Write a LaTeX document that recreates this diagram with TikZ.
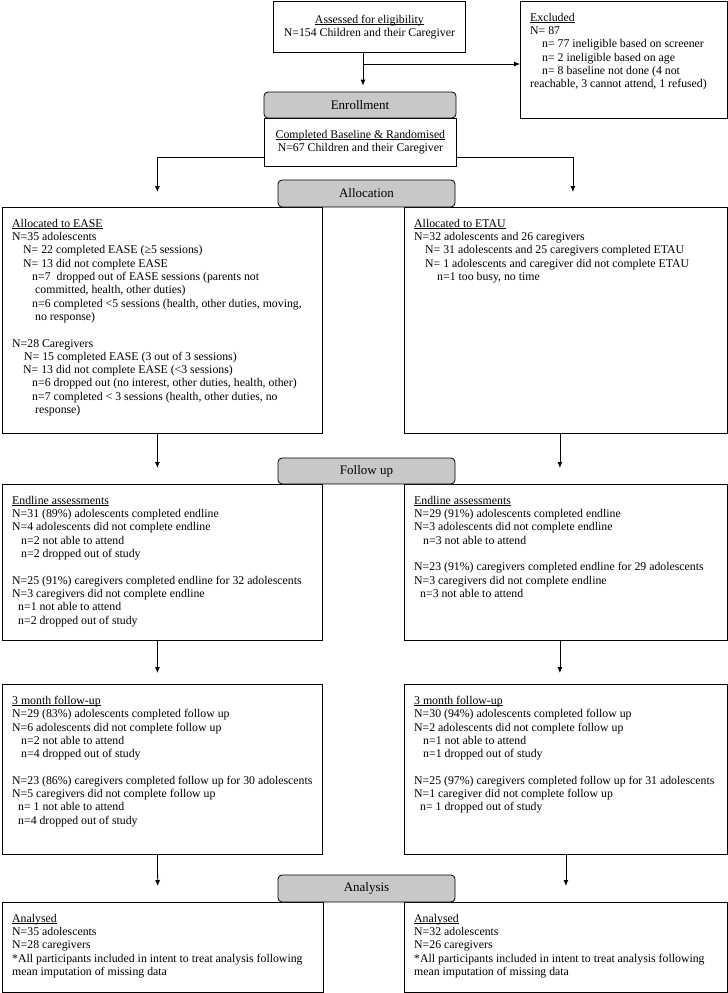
\documentclass[tikz,border=0pt]{standalone}
\usepackage{fontspec}
\setmainfont{Liberation Serif}
\usetikzlibrary{shapes,arrows.meta,positioning}

\definecolor{stagegray}{RGB}{200,200,200}
\newcommand{\headline}[1]{\setbox0\hbox{#1}\rlap{\rule[-1.4pt]{\wd0}{0.6pt}}\box0}

\begin{document}
\begin{tikzpicture}[x=1pt,y=1pt]
    \tikzset{box/.style={draw, rectangle, anchor=north west, inner sep=0pt, line width=0.8pt},
             stage/.style={draw, fill=stagegray, rounded corners=4pt, line width=0.8pt,
                           minimum width=177pt, minimum height=27pt, inner sep=0pt,
                           font=\fontsize{13}{15}\selectfont},
             txt/.style={anchor=north west, align=left, inner sep=0pt, font=\fontsize{11.8}{13.3}\selectfont},
             ctxt/.style={align=center, inner sep=0pt, font=\fontsize{11.8}{13.3}\selectfont},
             arr/.style={->, >={Latex[length=6pt,width=5pt]}, line width=0.8pt}}

    \useasboundingbox (0,0) rectangle (728,-993);

    \node[box, minimum width=192pt, minimum height=51pt]  (assess) at (273,-1)   {};
    \node[box, minimum width=207pt, minimum height=117pt] (excl)   at (520,-1)   {};
    \node[box, minimum width=192pt, minimum height=48pt]  (comp)   at (264,-118) {};
    \node[box, minimum width=320pt, minimum height=226pt] (ease)   at (2,-207)   {};
    \node[box, minimum width=323pt, minimum height=226pt] (etau)   at (404,-207) {};
    \node[box, minimum width=320pt, minimum height=156pt] (endL)   at (2,-484)   {};
    \node[box, minimum width=323pt, minimum height=156pt] (endR)   at (404,-484) {};
    \node[box, minimum width=320pt, minimum height=170pt] (fuL)    at (2,-684)   {};
    \node[box, minimum width=323pt, minimum height=170pt] (fuR)    at (404,-684) {};
    \node[box, minimum width=321pt, minimum height=90pt]  (anL)    at (2,-902)   {};
    \node[box, minimum width=323pt, minimum height=90pt]  (anR)    at (404,-902) {};

    \node[stage, minimum width=192pt, minimum height=26pt] (enroll) at (360,-105) {Enrollment};
    \node[stage] (alloc)  at (366.5,-193.5) {Allocation};
    \node[stage, minimum height=26pt] (follow) at (366.5,-471) {Follow up};
    \node[stage] (analysis) at (366.5,-888.5) {Analysis};

    \node[ctxt] (assessT) at (assess.center) {\headline{Assessed for eligibility}\\N=154 Children and their Caregiver};
    \node[ctxt] (compT) at (comp.center) {\headline{Completed Baseline \& Randomised}\\N=67 Children and their Caregiver};
    \node[txt] (exclT) at ([shift={(10,-12)}]excl.north west) {\headline{Excluded}\\
        N= 87\\
        \hspace*{12pt}n= 77 ineligible based on screener\\
        \hspace*{12pt}n= 2 ineligible based on age\\
        \hspace*{12pt}n= 8 baseline not done (4 not\\
        reachable, 3 cannot attend, 1 refused)};

    \node[txt] (easeT) at ([shift={(10,-12)}]ease.north west) {\headline{Allocated to EASE}\\
        N=35 adolescents\\
        \hspace*{11pt}N= 22 completed EASE (≥5 sessions)\\
        \hspace*{11pt}N= 13 did not complete EASE\\
        \hspace*{20pt}n=7\hspace{3pt} dropped out of EASE sessions (parents not\\
        \hspace*{23pt}committed, health, other duties)\\
        \hspace*{20pt}n=6 completed <5 sessions (health, other duties, moving,\\
        \hspace*{23pt}no response)\\[13.3pt]
        N=28 Caregivers\\
        \hspace*{12pt}N= 15 completed EASE (3 out of 3 sessions)\\
        \hspace*{11pt}N= 13 did not complete EASE (<3 sessions)\\
        \hspace*{20pt}n=6 dropped out (no interest, other duties, health, other)\\
        \hspace*{20pt}n=7 completed < 3 sessions (health, other duties, no\\
        \hspace*{23pt}response)};
    \node[txt] (etauT) at ([shift={(10,-12)}]etau.north west) {\headline{Allocated to ETAU}\\
        N=32 adolescents and 26 caregivers\\
        \hspace*{11pt}N= 31 adolescents and 25 caregivers completed ETAU\\
        \hspace*{11pt}N= 1 adolescents and caregiver did not complete ETAU\\
        \hspace*{23pt}n=1 too busy, no time};

    \node[txt] (endLT) at ([shift={(10,-12)}]endL.north west) {\headline{Endline assessments}\\
        N=31 (89\%) adolescents completed endline\\
        N=4 adolescents did not complete endline\\
        \hspace*{9pt}n=2 not able to attend\\
        \hspace*{9pt}n=2 dropped out of study\\[13.3pt]
        N=25 (91\%) caregivers completed endline for 32 adolescents\\
        N=3 caregivers did not complete endline\\
        \hspace*{6pt}n=1 not able to attend\\
        \hspace*{6pt}n=2 dropped out of study};
    \node[txt] (endRT) at ([shift={(10,-12)}]endR.north west) {\headline{Endline assessments}\\
        N=29 (91\%) adolescents completed endline\\
        N=3 adolescents did not complete endline\\
        \hspace*{9pt}n=3 not able to attend\\[13.3pt]
        N=23 (91\%) caregivers completed endline for 29 adolescents\\
        N=3 caregivers did not complete endline\\
        \hspace*{6pt}n=3 not able to attend};

    \node[txt] (fuLT) at ([shift={(10,-12)}]fuL.north west) {\headline{3 month follow-up}\\
        N=29 (83\%) adolescents completed follow up\\
        N=6 adolescents did not complete follow up\\
        \hspace*{9pt}n=2 not able to attend\\
        \hspace*{9pt}n=4 dropped out of study\\[13.3pt]
        N=23 (86\%) caregivers completed follow up for 30 adolescents\\
        N=5 caregivers did not complete follow up\\
        \hspace*{6pt}n= 1 not able to attend\\
        \hspace*{6pt}n=4 dropped out of study};
    \node[txt] (fuRT) at ([shift={(10,-12)}]fuR.north west) {\headline{3 month follow-up}\\
        N=30 (94\%) adolescents completed follow up\\
        N=2 adolescents did not complete follow up\\
        \hspace*{9pt}n=1 not able to attend\\
        \hspace*{9pt}n=1 dropped out of study\\[13.3pt]
        N=25 (97\%) caregivers completed follow up for 31 adolescents\\
        N=1 caregiver did not complete follow up\\
        \hspace*{6pt}n= 1 dropped out of study};

    \node[txt] (anLT) at ([shift={(10,-12)}]anL.north west) {\headline{Analysed}\\
        N=35 adolescents\\
        N=28 caregivers\\
        *All participants included in intent to treat analysis following\\
        mean imputation of missing data};
    \node[txt] (anRT) at ([shift={(10,-12)}]anR.north west) {\headline{Analysed}\\
        N=32 adolescents\\
        N=26 caregivers\\
        *All participants included in intent to treat analysis following\\
        mean imputation of missing data};

    \coordinate (split) at (363,-64);
    \draw[arr, shorten >=6pt] ([xshift=3pt]enroll.north |- assess.south) -- ([xshift=3pt]enroll.north);
    \draw[arr] (split) -- (split -| excl.west);
    \draw[arr, shorten >=15pt] ([yshift=9pt]comp.south west) -| ([xshift=-5pt]ease.north);
    \draw[arr, shorten >=15pt] ([yshift=9pt]comp.south east) -| ([xshift=7pt]etau.north);
    \draw[arr, shorten >=16pt] ([xshift=-5pt]ease.south) -- ([xshift=-5pt]endL.north);
    \draw[arr, shorten >=16pt] ([xshift=-6pt]etau.south) -- ([xshift=-6pt]endR.north);
    \draw[arr, shorten >=11pt] ([xshift=-5pt]endL.south) -- ([xshift=-5pt]fuL.north);
    \draw[arr, shorten >=11pt] ([xshift=-6pt]endR.south) -- ([xshift=-6pt]fuR.north);
    \draw[arr, shorten >=16pt] ([xshift=-5pt]fuL.south) -- ([xshift=-5pt]anL.north);
    \draw[arr, shorten >=16pt] (fuR.south) -- (anR.north);
\end{tikzpicture}
\end{document}
